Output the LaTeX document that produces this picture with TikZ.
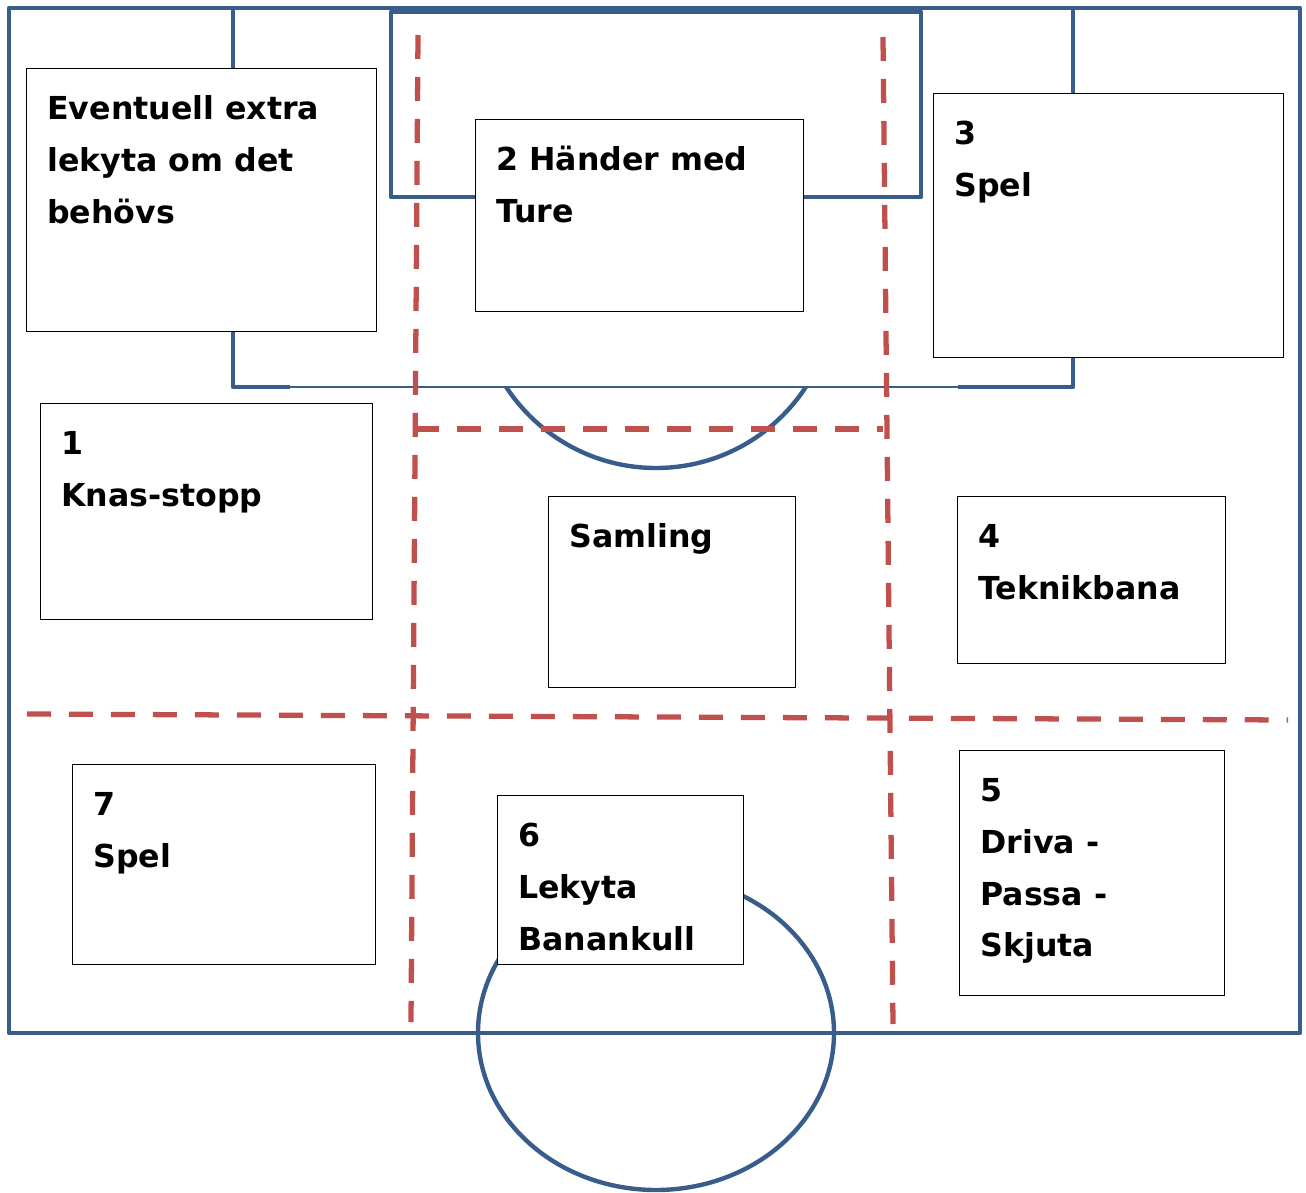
\documentclass[tikz,border=0pt]{standalone}
\usepackage{fontspec}
\newfontfamily\labelfont{DejaVu Sans}
\definecolor{fieldblue}{RGB}{56,93,138}
\definecolor{zonered}{RGB}{192,80,77}
\tikzset{
  field/.style={draw=fieldblue, line width=2.5pt, line join=round},
  fieldthin/.style={draw=fieldblue, line width=1.7pt},
  zone/.style={draw=zonered, line width=3.0pt, dash pattern=on 0.48cm off 0.36cm},
  station/.style={draw=black, line width=0.8pt, fill=white, rectangle, inner sep=0pt, anchor=north west},
  stationtext/.style={anchor=north west, inner sep=0pt, align=left,
    font=\labelfont\bfseries\fontsize{18pt}{29.5pt}\selectfont},
}
\newcommand{\firstline}{\rule{0pt}{0.8cm}}
\begin{document}
\begin{tikzpicture}[x=0.02cm, y=-0.02cm]
\useasboundingbox (0,0) rectangle (1306,1193);
% field
\draw[field] (9,8) rectangle (1300,1033);
\draw[field] (233,8) -- (233,387) -- (290,387);
\draw[fieldthin] (290,387) -- (958,387);
\draw[field] (958,387) -- (1073,387) -- (1073,8);
\draw[field, line width=2.8pt] (391,12) rectangle (921,197);
\begin{scope}
  \clip (233,388) rectangle (1073,600);
  \draw[field] (656,289) circle[radius=179];
\end{scope}
\draw[field] (656,1033) ellipse[x radius=178, y radius=157];
% zones
\draw[zone] (418,35) -- (411,1022);
\draw[zone] (883,37) -- (893,1024);
\draw[zone] (415,429) -- (883,429);
\draw[zone] (27,714) -- (1288,720);
% stations
\node[station, minimum width=7.0cm, minimum height=5.26cm] (bA) at (26,68) {};
\node[station, minimum width=6.56cm, minimum height=3.84cm] (b2) at (475,119) {};
\node[station, minimum width=7.0cm, minimum height=5.28cm] (b3) at (933,93) {};
\node[station, minimum width=6.64cm, minimum height=4.32cm] (b1) at (40,403) {};
\node[station, minimum width=4.94cm, minimum height=3.82cm] (bS) at (548,496) {};
\node[station, minimum width=5.36cm, minimum height=3.34cm] (b4) at (957,496) {};
\node[station, minimum width=6.06cm, minimum height=4.0cm] (b7) at (72,764) {};
\node[station, minimum width=4.92cm, minimum height=3.38cm] (b6) at (497,795) {};
\node[station, minimum width=5.3cm, minimum height=4.9cm] (b5) at (959,750) {};
% texts
\node[stationtext] (tA) at ([shift={(21,11)}]bA.north west) {\firstline Eventuell extra\\lekyta om det\\behövs};
\node[stationtext] (t2) at ([shift={(21,11)}]b2.north west) {\firstline 2 Händer med\\Ture};
\node[stationtext] (t3) at ([shift={(21,11)}]b3.north west) {\firstline 3\\Spel};
\node[stationtext] (t1) at ([shift={(21,11)}]b1.north west) {\firstline 1\\Knas-stopp};
\node[stationtext] (tS) at ([shift={(21,11)}]bS.north west) {\firstline Samling};
\node[stationtext] (t4) at ([shift={(21,11)}]b4.north west) {\firstline 4\\Teknikbana};
\node[stationtext] (t7) at ([shift={(21,11)}]b7.north west) {\firstline 7\\Spel};
\node[stationtext] (t6) at ([shift={(21,11)}]b6.north west) {\firstline 6\\Lekyta\\Banankull};
\node[stationtext] (t5) at ([shift={(21,11)}]b5.north west) {\firstline 5\\Driva -\\Passa -\\Skjuta};
\end{tikzpicture}
\end{document}
